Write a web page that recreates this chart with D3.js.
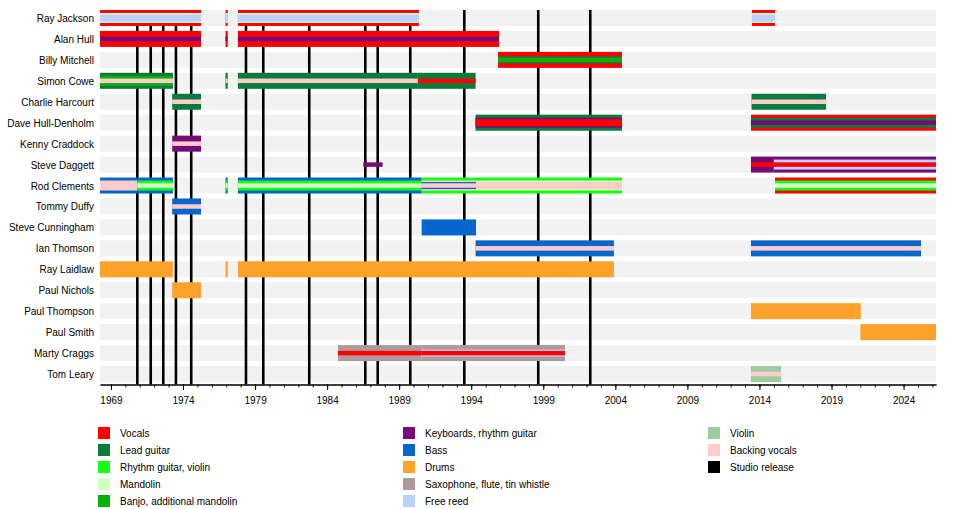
<!DOCTYPE html>
<html>
<head>
<meta charset="utf-8">
<script src="https://cdn.jsdelivr.net/npm/d3@7"></script>
<style>
    body { margin: 0; background: #fff; }
    svg text { font-family: "Liberation Sans", Arial, sans-serif; font-size: 10px; fill: #000; }
</style>
</head>
<body>
<div id="chart"></div>
<script>

// band members, top to bottom
const members = ["Ray Jackson", "Alan Hull", "Billy Mitchell", "Simon Cowe", "Charlie Harcourt",
    "Dave Hull-Denholm", "Kenny Craddock", "Steve Daggett", "Rod Clements", "Tommy Duffy",
    "Steve Cunningham", "Ian Thomson", "Ray Laidlaw", "Paul Nichols", "Paul Thompson",
    "Paul Smith", "Marty Craggs", "Tom Leary"];

const roleKeys = ["vocals", "lead", "rhythm", "mandolin", "banjo", "keys", "bass", "drums",
    "sax", "freereed", "violin", "backing", "release"];
const roleLabels = ["Vocals", "Lead guitar", "Rhythm guitar, violin", "Mandolin", "Banjo, additional mandolin",
    "Keyboards, rhythm guitar", "Bass", "Drums", "Saxophone, flute, tin whistle", "Free reed",
    "Violin", "Backing vocals", "Studio release"];
const roleColors = ["#ff0000", "#087b3d", "#14ff14", "#d4ffc4", "#0ab00a",
    "#770a77", "#0766cc", "#ffa22c", "#ae9a9a", "#bad2ff",
    "#9fcc9f", "#ffcccc", "#000000"];

// whole period shown
const timeSpan = [1968.24, 2026.25];

// studio releases (decimal year)
const releases = [1970.83, 1971.76, 1972.63, 1973.51, 1974.57, 1978.37, 1979.57, 1982.76,
    1986.65, 1987.51, 1989.77, 1993.52, 1998.65, 2002.26];

const majorTicks = [1969, 1974, 1979, 1984, 1989, 1994, 1999, 2004, 2009, 2014, 2019, 2024];

// [member, from, till, roles from outer to inner (null = skipped layer)]
const periods = [
    ["Ray Jackson", 1968.24, 1975.25, ["vocals", "mandolin", "freereed"]],
    ["Ray Jackson", 1976.95, 1977.10, ["vocals", "mandolin", "freereed"]],
    ["Ray Jackson", 1977.81, 1990.37, ["vocals", "mandolin", "freereed"]],
    ["Ray Jackson", 2013.48, 2015.08, ["vocals", "mandolin", "freereed"]],
    ["Alan Hull", 1968.24, 1975.25, ["vocals", null, null, "keys"]],
    ["Alan Hull", 1976.95, 1977.10, ["vocals", null, null, "keys"]],
    ["Alan Hull", 1977.81, 1995.93, ["vocals", null, null, "keys"]],
    ["Billy Mitchell", 1995.86, 2004.46, ["vocals", null, "lead", "banjo"]],
    ["Simon Cowe", 1968.24, 1973.30, ["lead", "banjo", null, "backing"]],
    ["Simon Cowe", 1976.95, 1977.10, ["lead", "banjo", null, "backing"]],
    ["Simon Cowe", 1977.81, 1990.30, ["lead", null, null, "backing"]],
    ["Simon Cowe", 1990.30, 1994.30, ["lead", null, null, "vocals"]],
    ["Charlie Harcourt", 1973.25, 1975.25, ["lead", null, null, "backing"]],
    ["Charlie Harcourt", 2013.45, 2018.62, ["lead", null, null, "backing"]],
    ["Dave Hull-Denholm", 1994.30, 2004.46, ["lead", "keys", "vocals"]],
    ["Dave Hull-Denholm", 2013.41, 2026.25, ["vocals", "lead", null, "keys"]],
    ["Kenny Craddock", 1973.25, 1975.25, ["keys", null, null, "backing"]],
    ["Steve Daggett", 1986.51, 1987.85, [null, null, null, "keys"]],
    ["Steve Daggett", 2013.41, 2015.00, ["keys", null, null, "vocals"]],
    ["Steve Daggett", 2015.00, 2026.25, ["keys", "freereed", null, "vocals"]],
    ["Rod Clements", 1968.24, 1970.83, ["bass", "backing"]],
    ["Rod Clements", 1970.83, 1973.30, ["bass", "rhythm", null, "mandolin"]],
    ["Rod Clements", 1976.95, 1977.10, ["bass", "rhythm", null, "mandolin"]],
    ["Rod Clements", 1977.81, 1990.56, ["bass", "rhythm", null, "mandolin"]],
    ["Rod Clements", 1990.56, 1994.33, ["rhythm", "backing", "bass", "backing"]],
    ["Rod Clements", 1994.33, 2004.46, ["rhythm", "mandolin", "backing"]],
    ["Rod Clements", 2015.08, 2026.25, ["vocals", "rhythm", null, "mandolin"]],
    ["Tommy Duffy", 1973.25, 1975.25, ["bass", null, null, "backing"]],
    ["Steve Cunningham", 1990.56, 1994.33, ["bass"]],
    ["Ian Thomson", 1994.30, 2003.90, ["bass", null, null, "backing"]],
    ["Ian Thomson", 2013.41, 2025.21, ["bass", null, null, "backing"]],
    ["Ray Laidlaw", 1968.24, 1973.30, ["drums"]],
    ["Ray Laidlaw", 1976.95, 1977.10, ["drums"]],
    ["Ray Laidlaw", 1977.81, 2003.90, ["drums"]],
    ["Paul Nichols", 1973.25, 1975.25, ["drums"]],
    ["Paul Thompson", 2013.41, 2021.03, ["drums"]],
    ["Paul Smith", 2021.00, 2026.25, ["drums"]],
    ["Marty Craggs", 1984.75, 1990.56, ["sax", null, null, "vocals"]],
    ["Marty Craggs", 1990.56, 2000.50, ["sax", null, "freereed", "vocals"]],
    ["Tom Leary", 2013.41, 2015.50, ["violin", null, null, "backing"]]
];


class BandTimeline {

    constructor(parentElement) {
        this.parentElement = parentElement;
        this.color = d3.scaleOrdinal().domain(roleKeys).range(roleColors);
        this.layerWidth = [16, 10, 7, 4.5];
        this.initVis();
    }

    initVis() {
        let vis = this;

        vis.width = 960;
        vis.height = 509;
        vis.plot = {left: 100, right: 936, top: 7.5, bottom: 384.5};

        vis.svg = d3.select("#" + vis.parentElement).append("svg")
            .attr("width", vis.width)
            .attr("height", vis.height);

        vis.x = d3.scaleLinear().domain(timeSpan).range([vis.plot.left, vis.plot.right]);
        vis.y = d3.scaleBand().domain(members).range([vis.plot.top, vis.plot.bottom]);

        vis.wrangleData();
    }

    wrangleData() {
        let vis = this;

        // one record per coloured layer
        vis.layers = [];
        periods.forEach(p => {
            p[3].forEach((role, i) => {
                if (role) vis.layers.push({member: p[0], from: p[1], till: p[2], role: role, layer: i});
            });
        });
        vis.layers.sort((a, b) => a.layer - b.layer);

        vis.updateVis();
    }

    updateVis() {
        let vis = this;
        let mid = d => vis.y(d) + vis.y.bandwidth() / 2;

        // grey row backgrounds
        vis.svg.append("g").selectAll("rect")
            .data(members)
            .enter().append("rect")
            .attr("x", vis.plot.left)
            .attr("width", vis.plot.right - vis.plot.left)
            .attr("y", d => mid(d) - 8)
            .attr("height", 16)
            .attr("fill", "#f2f2f2");

        // studio releases
        vis.svg.append("g").selectAll("line")
            .data(releases)
            .enter().append("line")
            .attr("x1", d => vis.x(d))
            .attr("x2", d => vis.x(d))
            .attr("y1", mid(members[0]) - 8)
            .attr("y2", vis.plot.bottom)
            .attr("stroke", "#000")
            .attr("stroke-width", 2.6);

        // member bars
        vis.svg.append("g").selectAll("rect")
            .data(vis.layers)
            .enter().append("rect")
            .attr("x", d => vis.x(d.from))
            .attr("width", d => vis.x(d.till) - vis.x(d.from))
            .attr("y", d => mid(d.member) - vis.layerWidth[d.layer] / 2)
            .attr("height", d => vis.layerWidth[d.layer])
            .attr("fill", d => vis.color(d.role));

        // member names
        vis.svg.append("g").selectAll("text")
            .data(members)
            .enter().append("text")
            .attr("x", 94)
            .attr("y", d => mid(d) + 0.5)
            .attr("dy", "0.35em")
            .style("text-anchor", "end")
            .text(d => d);

        // axes: yearly minor ticks + labelled 5-year ticks
        let minorAxis = d3.axisBottom(vis.x)
            .tickValues(d3.range(1969, 2027))
            .tickSize(3)
            .tickSizeOuter(0)
            .tickFormat("");
        let majorAxis = d3.axisBottom(vis.x)
            .tickValues(majorTicks)
            .tickSize(5.5)
            .tickSizeOuter(0)
            .tickPadding(6.5)
            .tickFormat(d3.format("d"));

        vis.svg.append("g")
            .attr("transform", "translate(0," + vis.plot.bottom + ")")
            .call(minorAxis)
            .call(g => g.selectAll("line").attr("stroke", "#000"));
        vis.svg.append("g")
            .attr("transform", "translate(0," + vis.plot.bottom + ")")
            .call(majorAxis)
            .call(g => g.select(".domain").attr("stroke", "#000"))
            .call(g => g.selectAll("line").attr("stroke", "#000"))
            .call(g => g.selectAll("text").attr("fill", "#000").style("font-size", "10px")
                .style("font-family", "'Liberation Sans', Arial, sans-serif"));

        // legend, 3 columns of 5
        let legend = vis.svg.append("g").selectAll("g")
            .data(roleKeys)
            .enter().append("g")
            .attr("transform", (d, i) => "translate(" + (98 + Math.floor(i / 5) * 305) + "," + (433 + (i % 5) * 17) + ")");

        legend.append("rect")
            .attr("x", 0)
            .attr("y", -6)
            .attr("width", 12)
            .attr("height", 12)
            .attr("fill", d => vis.color(d));

        legend.append("text")
            .attr("x", 22)
            .attr("dy", "0.35em")
            .text((d, i) => roleLabels[i]);
    }
}

let chart = new BandTimeline("chart");

</script>
</body>
</html>
